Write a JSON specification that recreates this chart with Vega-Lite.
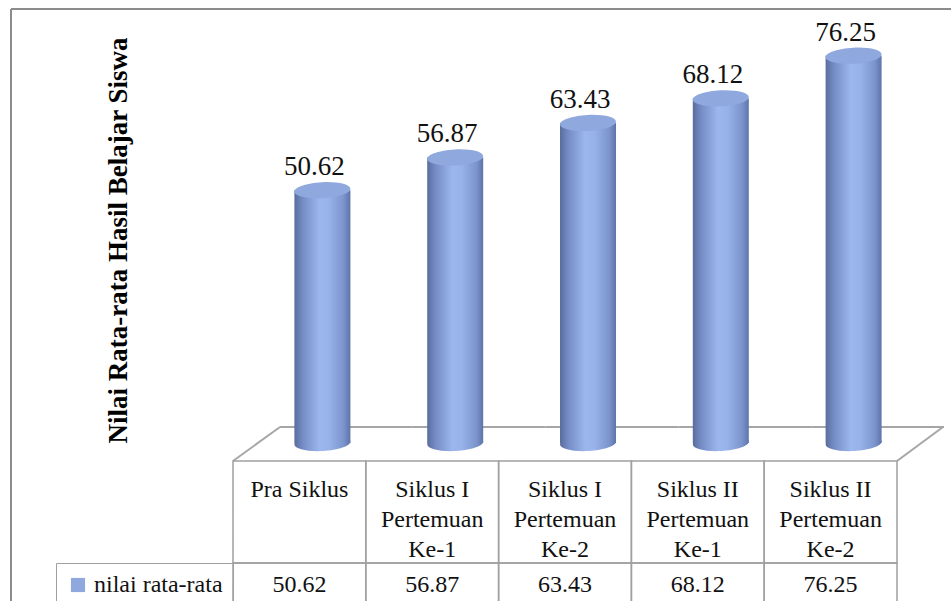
{
  "$schema": "https://vega.github.io/schema/vega-lite/v6.json",
  "width": 940,
  "height": 592,
  "autosize": "none",
  "padding": {"left": 11, "top": 9, "right": 0, "bottom": 0},
  "background": "white",
  "config": {
    "font": "Liberation Serif",
    "view": {"stroke": "#8c8c8c", "strokeWidth": 2, "strokeDash": [940, 1532, 592, 0]}
  },
  "data": {
    "values": [
      {"kategori": "Pra Siklus", "judul": "Pra Siklus", "nilai": 50.62, "seri": "nilai rata-rata"},
      {"kategori": "Siklus I Pertemuan Ke-1", "judul": "Siklus I\nPertemuan\nKe-1", "nilai": 56.87, "seri": "nilai rata-rata"},
      {"kategori": "Siklus I Pertemuan Ke-2", "judul": "Siklus I\nPertemuan\nKe-2", "nilai": 63.43, "seri": "nilai rata-rata"},
      {"kategori": "Siklus II Pertemuan Ke-1", "judul": "Siklus II\nPertemuan\nKe-1", "nilai": 68.12, "seri": "nilai rata-rata"},
      {"kategori": "Siklus II Pertemuan Ke-2", "judul": "Siklus II\nPertemuan\nKe-2", "nilai": 76.25, "seri": "nilai rata-rata"}
    ]
  },
  "encoding": {
    "x": {
      "field": "kategori",
      "type": "nominal",
      "sort": null,
      "scale": {"type": "band", "range": [222, 886], "paddingInner": 0, "paddingOuter": 0},
      "axis": null
    }
  },
  "layer": [
    {
      "description": "Lantai 3D dan tabel data di bawah grafik",
      "layer": [
        {
          "mark": {"type": "rule", "stroke": "#a6a6a6", "strokeWidth": 2, "xOffset": 47, "x2Offset": 47, "yOffset": -34},
          "encoding": {
            "x": {"field": "kategori", "type": "nominal", "sort": null, "bandPosition": 0},
            "x2": {"field": "kategori", "bandPosition": 1},
            "y": {"datum": 0, "type": "quantitative", "scale": {"domain": [0, 1], "range": [452, 554]}, "axis": null}
          }
        },
        {
          "transform": [{"filter": "datum.kategori == 'Pra Siklus'"}],
          "mark": {"type": "rule", "stroke": "#a6a6a6", "strokeWidth": 2, "x2Offset": 47, "y2Offset": -34},
          "encoding": {
            "x": {"field": "kategori", "type": "nominal", "sort": null, "bandPosition": 0},
            "x2": {"field": "kategori", "bandPosition": 0},
            "y": {"datum": 0, "type": "quantitative", "scale": {"domain": [0, 1], "range": [452, 554]}, "axis": null},
            "y2": {"datum": 0}
          }
        },
        {
          "transform": [{"filter": "datum.kategori == 'Siklus II Pertemuan Ke-2'"}],
          "mark": {"type": "rule", "stroke": "#a6a6a6", "strokeWidth": 2, "x2Offset": 46, "y2Offset": -34},
          "encoding": {
            "x": {"field": "kategori", "type": "nominal", "sort": null, "bandPosition": 1},
            "x2": {"field": "kategori", "bandPosition": 1},
            "y": {"datum": 0, "type": "quantitative", "scale": {"domain": [0, 1], "range": [452, 554]}, "axis": null},
            "y2": {"datum": 0}
          }
        },
        {
          "mark": {"type": "rect", "fill": "white", "fillOpacity": 0, "stroke": "#a0a0a0", "strokeWidth": 1.5},
          "encoding": {
            "y": {"datum": 0, "type": "quantitative", "scale": {"domain": [0, 1], "range": [452, 554]}, "axis": null},
            "y2": {"datum": 1}
          }
        },
        {
          "mark": {"type": "rect", "fill": "white", "fillOpacity": 0, "stroke": "#a0a0a0", "strokeWidth": 1.5},
          "encoding": {
            "y": {"datum": 1, "type": "quantitative", "scale": {"domain": [0, 1], "range": [452, 554]}, "axis": null},
            "y2": {"datum": 1.45}
          }
        },
        {
          "mark": {"type": "text", "font": "Liberation Serif", "fontSize": 24, "color": "#111", "align": "center", "baseline": "alphabetic", "lineBreak": "\n", "lineHeight": 30, "yOffset": 36},
          "encoding": {
            "text": {"field": "judul"},
            "y": {"datum": 0, "type": "quantitative", "scale": {"domain": [0, 1], "range": [452, 554]}, "axis": null}
          }
        },
        {
          "mark": {"type": "text", "font": "Liberation Serif", "fontSize": 24, "color": "#111", "align": "center", "baseline": "alphabetic", "yOffset": 29},
          "encoding": {
            "text": {"field": "nilai", "type": "quantitative", "format": ".2f"},
            "y": {"datum": 1, "type": "quantitative", "scale": {"domain": [0, 1], "range": [452, 554]}, "axis": null}
          }
        }
      ]
    },
    {
      "description": "Silinder nilai rata-rata dengan label nilai",
      "layer": [
        {
          "mark": {
            "type": "point",
            "shape": "M-1,0A1,0.286,0,1,1,1,0A1,0.286,0,1,1,-1,0Z",
            "size": 3136,
            "filled": true,
            "opacity": 1,
            "strokeWidth": 0,
            "angle": -3,
            "xOffset": 23,
            "yOffset": -13,
            "fill": {
              "gradient": "linear", "x1": 0, "y1": 0, "x2": 1, "y2": 0,
              "stops": [
                {"offset": 0, "color": "#5a6c9c"},
                {"offset": 0.15, "color": "#758dc6"},
                {"offset": 0.45, "color": "#9cb6ee"},
                {"offset": 0.62, "color": "#97b1e9"},
                {"offset": 0.88, "color": "#7b94cc"},
                {"offset": 1, "color": "#5e74a8"}
              ]
            }
          },
          "encoding": {
            "y": {"datum": 0, "type": "quantitative", "scale": {"domain": [0, 80], "range": [447, 27]}}
          }
        },
        {
          "mark": {
            "type": "bar",
            "width": 56,
            "xOffset": 23,
            "y2Offset": -13,
            "fill": {
              "gradient": "linear", "x1": 0, "y1": 0, "x2": 1, "y2": 0,
              "stops": [
                {"offset": 0, "color": "#5a6c9c"},
                {"offset": 0.15, "color": "#758dc6"},
                {"offset": 0.45, "color": "#9cb6ee"},
                {"offset": 0.62, "color": "#97b1e9"},
                {"offset": 0.88, "color": "#7b94cc"},
                {"offset": 1, "color": "#5e74a8"}
              ]
            }
          },
          "encoding": {
            "y": {
              "field": "nilai",
              "type": "quantitative",
              "scale": {"domain": [0, 80], "range": [447, 27]},
              "axis": {
                "orient": "left",
                "title": "Nilai Rata-rata Hasil Belajar Siswa",
                "domain": false,
                "ticks": false,
                "labels": false,
                "grid": false,
                "titleFont": "Liberation Serif",
                "titleFontSize": 27,
                "titleFontWeight": "bold",
                "titleColor": "#000",
                "titleAngle": -90,
                "titleAlign": "center",
                "titleBaseline": "middle",
                "titleX": 107,
                "titleY": 231
              }
            },
            "y2": {"datum": 0}
          }
        },
        {
          "mark": {
            "type": "point",
            "shape": "M-1,0A1,0.286,0,1,1,1,0A1,0.286,0,1,1,-1,0Z",
            "size": 3136,
            "filled": true,
            "opacity": 1,
            "strokeWidth": 0,
            "angle": -3,
            "xOffset": 23
          },
          "encoding": {
            "y": {"field": "nilai", "type": "quantitative", "scale": {"domain": [0, 80], "range": [447, 27]}},
            "color": {
              "field": "seri",
              "type": "nominal",
              "scale": {"range": ["#8fa8de"]},
              "legend": {
                "title": null,
                "orient": "none",
                "legendX": 45,
                "legendY": 554,
                "strokeColor": "#a0a0a0",
                "padding": 10,
                "symbolType": "square",
                "symbolSize": 200,
                "symbolStrokeWidth": 0,
                "labelFont": "Liberation Serif",
                "labelFontSize": 24,
                "labelColor": "#111",
                "labelOffset": 4,
                "labelLimit": 300
              }
            }
          }
        },
        {
          "mark": {"type": "text", "font": "Liberation Serif", "fontSize": 27, "color": "#111", "align": "center", "baseline": "alphabetic", "xOffset": 15, "yOffset": -15},
          "encoding": {
            "y": {"field": "nilai", "type": "quantitative", "scale": {"domain": [0, 80], "range": [447, 27]}},
            "text": {"field": "nilai", "type": "quantitative", "format": ".2f"}
          }
        }
      ]
    }
  ],
  "resolve": {"scale": {"y": "independent"}}
}
